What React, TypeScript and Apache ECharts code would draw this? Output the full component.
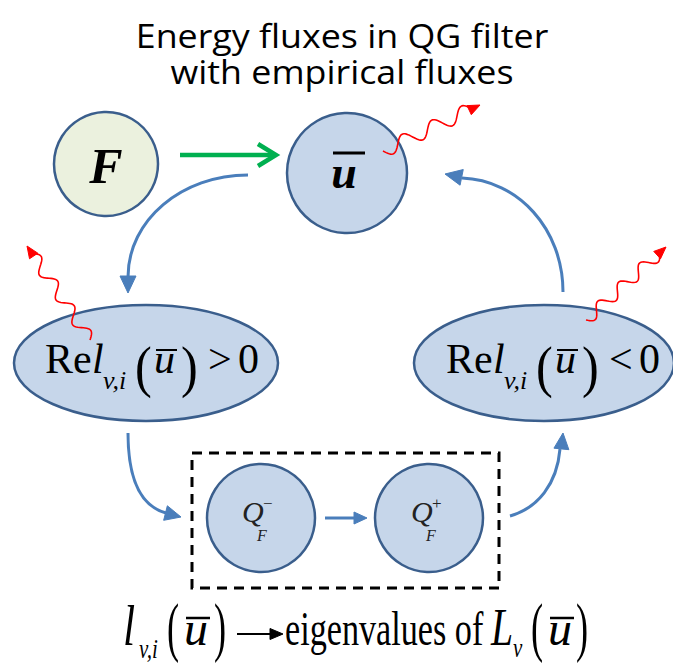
import React, { useEffect, useRef } from "react";
import * as echarts from "echarts";

// ---- texts of the diagram ----
const titleLines = ["Energy fluxes in QG filter", "with empirical fluxes"];
const forcingLabel = "F";
const meanLabel = "u";
const ellipseParts = ["Re", "l", "v,i", "(", "u", ")", "0"];
const relationSigns = [">", "<"];
const filterParts = ["Q", "F"];
const filterSigns = ["\u2212", "+"];
const footnoteParts = ["l", "v,i", "(", "u", ")", "eigenvalues of", "L", "v", "(", "u", ")"];

const SERIF = '"Liberation Serif", "Times New Roman", serif';
const SANS = '"Open Sans", "Noto Sans", sans-serif';

const BLUE_FILL = "#c6d6ea";
const GREEN_FILL = "#ebf1de";
const EDGE = "#3a5e8c";
const ARROW = "#4a7ebb";
const RED = "#ff0000";

type TOpt = { italic?: boolean; bold?: boolean; sx?: number; color?: string; family?: string; align?: string; mid?: number };

function txt(text: string, x: number, baseline: number, size: number, o: TOpt = {}) {
  const mid = o.mid ?? 0.3375;
  return {
    type: "text",
    x,
    y: baseline - mid * size,
    scaleX: o.sx ?? 1,
    silent: true,
    z: 20,
    style: {
      text,
      fill: o.color ?? "#000",
      fontSize: size,
      fontFamily: o.family ?? SERIF,
      fontStyle: o.italic ? "italic" : "normal",
      fontWeight: o.bold ? "bold" : "normal",
      textAlign: o.align ?? "left",
      textVerticalAlign: "middle",
      verticalAlign: "middle",
    },
  };
}

function bar(x1: number, x2: number, y: number, w = 2) {
  return { type: "line", silent: true, z: 20, shape: { x1, y1: y, x2, y2: y }, style: { stroke: "#000", lineWidth: w } };
}

function head(tipX: number, tipY: number, ang: number, len: number, wid: number, color: string) {
  const bx = tipX - len * Math.cos(ang);
  const by = tipY - len * Math.sin(ang);
  const px = -Math.sin(ang) * wid / 2;
  const py = Math.cos(ang) * wid / 2;
  return {
    type: "polygon",
    silent: true,
    z: 30,
    shape: { points: [[tipX, tipY], [bx + px, by + py], [bx - px, by - py]] },
    style: { fill: color, stroke: color, lineWidth: 1 },
  };
}

function curve(x1: number, y1: number, c1x: number, c1y: number, c2x: number, c2y: number, x2: number, y2: number) {
  return {
    type: "bezierCurve",
    silent: true,
    z: 30,
    shape: { x1, y1, cpx1: c1x, cpy1: c1y, cpx2: c2x, cpy2: c2y, x2, y2 },
    style: { stroke: ARROW, lineWidth: 3, fill: null },
  };
}

function wavy(sx: number, sy: number, tx: number, ty: number, periods: number, amp: number) {
  const ang = Math.atan2(ty - sy, tx - sx);
  const len = Math.hypot(tx - sx, ty - sy) - 9;
  const ex = sx + len * Math.cos(ang);
  const ey = sy + len * Math.sin(ang);
  const nx = -Math.sin(ang);
  const ny = Math.cos(ang);
  const pts: number[][] = [];
  const steps = 90;
  for (let i = 0; i <= steps; i++) {
    const t = i / steps;
    const off = amp * Math.sin(2 * Math.PI * periods * t);
    pts.push([sx + (ex - sx) * t + nx * off, sy + (ey - sy) * t + ny * off]);
  }
  return [
    { type: "polyline", silent: true, z: 40, shape: { points: pts }, style: { stroke: RED, lineWidth: 1.6, fill: null } },
    head(tx, ty, ang, 12, 10, RED),
  ];
}

function ellipseText(dx: number, sign: string) {
  const [re, l, sub, lp, u, rp, zero] = ellipseParts;
  return [
    txt(re, 45 + dx, 373, 42),
    txt(l, 92 + dx, 373, 42, { italic: true }),
    txt(sub, 103 + dx, 389, 26, { italic: true }),
    txt(lp, 135 + dx, 387, 56, { sx: 0.9 }),
    txt(u, 154 + dx, 373, 42, { italic: true }),
    bar(156 + dx, 177 + dx, 350, 2),
    txt(rp, 181 + dx, 387, 56, { sx: 0.9 }),
    txt(sign, 208 + dx, 373, 42),
    txt(zero, 238 + dx, 373, 42),
  ];
}

function filterText(x: number, sign: string) {
  const [q, f] = filterParts;
  return [
    txt(q, x, 522, 30, { italic: true, color: "#222" }),
    txt(f, x + 15, 541, 16, { italic: true, color: "#222" }),
    txt(sign, x + 21, 509, 17, { color: "#222" }),
  ];
}

function buildElements() {
  const els: any[] = [];
  // title
  els.push(txt(titleLines[0], 342, 48, 33, { family: SANS, align: "center", sx: 1.085, mid: 0.388 }));
  els.push(txt(titleLines[1], 342, 84, 33, { family: SANS, align: "center", sx: 1.085, mid: 0.388 }));

  // nodes
  els.push({ type: "circle", silent: true, z: 10, shape: { cx: 106, cy: 164, r: 52 }, style: { fill: GREEN_FILL, stroke: EDGE, lineWidth: 2.5 } });
  els.push({ type: "circle", silent: true, z: 10, shape: { cx: 347, cy: 173, r: 60 }, style: { fill: BLUE_FILL, stroke: EDGE, lineWidth: 2.5 } });
  els.push({ type: "ellipse", silent: true, z: 10, shape: { cx: 146, cy: 363, rx: 132, ry: 58 }, style: { fill: BLUE_FILL, stroke: EDGE, lineWidth: 2.5 } });
  els.push({ type: "ellipse", silent: true, z: 10, shape: { cx: 544, cy: 363, rx: 130, ry: 58 }, style: { fill: BLUE_FILL, stroke: EDGE, lineWidth: 2.5 } });
  els.push({ type: "circle", silent: true, z: 10, shape: { cx: 261, cy: 518, r: 54 }, style: { fill: BLUE_FILL, stroke: EDGE, lineWidth: 2.5 } });
  els.push({ type: "circle", silent: true, z: 10, shape: { cx: 429, cy: 518, r: 54 }, style: { fill: BLUE_FILL, stroke: EDGE, lineWidth: 2.5 } });

  // dashed box
  els.push({ type: "rect", silent: true, z: 5, shape: { x: 192, y: 453, width: 307, height: 135 }, style: { fill: null, stroke: "#000", lineWidth: 3, lineDash: [10, 7] } });

  // labels
  els.push(txt(forcingLabel, 106, 183, 50, { italic: true, bold: true, align: "center" }));
  els.push(txt(meanLabel, 344, 188, 46, { italic: true, bold: true, align: "center" }));
  els.push(bar(333, 365, 153, 3));
  els.push(...ellipseText(0, relationSigns[0]));
  els.push(...ellipseText(401, relationSigns[1]));
  els.push(...filterText(242, filterSigns[0]));
  els.push(...filterText(411, filterSigns[1]));

  // footnote
  const [l, sub, lp, u, rp, words, L, subv, lp2, u2, rp2] = footnoteParts;
  els.push(txt(l, 123, 645, 56, { italic: true, sx: 0.78 }));
  els.push(txt(sub, 139, 658, 28, { italic: true, sx: 0.75 }));
  els.push(txt(lp, 167, 650, 66, { sx: 0.55 }));
  els.push(txt(u, 184, 645, 48, { italic: true }));
  els.push(bar(186, 210, 618, 2.5));
  els.push(txt(rp, 214, 650, 66, { sx: 0.55 }));
  // maps-to arrow
  els.push({ type: "line", silent: true, z: 20, shape: { x1: 237, y1: 634, x2: 272, y2: 634 }, style: { stroke: "#000", lineWidth: 2 } });
  els.push(head(283, 634, 0, 13, 11, "#000"));
  els.push(txt(words, 285, 645, 48, { sx: 0.712 }));
  els.push(txt(L, 491, 645, 53, { italic: true, sx: 0.75 }));
  els.push(txt(subv, 513, 657, 28, { italic: true, sx: 0.75 }));
  els.push(txt(lp2, 531, 650, 66, { sx: 0.55 }));
  els.push(txt(u2, 548, 645, 48, { italic: true }));
  els.push(bar(550, 574, 618, 2.5));
  els.push(txt(rp2, 576, 650, 66, { sx: 0.55 }));

  // green arrow
  els.push({ type: "line", silent: true, z: 30, shape: { x1: 180, y1: 155, x2: 274, y2: 155 }, style: { stroke: "#00b050", lineWidth: 4.5 } });
  els.push({ type: "polyline", silent: true, z: 30, shape: { points: [[258, 144], [276, 155], [258, 166]] }, style: { stroke: "#00b050", lineWidth: 4.5, fill: null } });

  // blue curved arrows
  els.push(curve(248, 175, 182, 175, 128, 220, 128, 277));
  els.push(head(128, 293, Math.PI / 2, 17, 16, ARROW));
  els.push(curve(563, 292, 563, 229, 518, 180, 462, 178));
  els.push(head(445, 174, Math.PI + 0.2, 17, 16, ARROW));
  els.push(curve(128, 433, 128, 478, 140, 506, 166, 513));
  els.push(head(181, 517, 0.25, 16, 15, ARROW));
  els.push(curve(510, 516, 538, 508, 557, 484, 560, 449));
  els.push(head(563, 433, -Math.PI / 2 + 0.1, 16, 15, ARROW));
  els.push({ type: "line", silent: true, z: 30, shape: { x1: 325, y1: 518, x2: 356, y2: 518 }, style: { stroke: ARROW, lineWidth: 3 } });
  els.push(head(367, 518, 0, 13, 12, ARROW));

  // red wavy arrows
  els.push(...wavy(383, 151, 480, 105, 3, 7));
  els.push(...wavy(90, 340, 27, 246, 3.5, 6));
  els.push(...wavy(586, 320, 666, 247, 3.5, 6));
  return els;
}

export default function App() {
  const ref = useRef<HTMLDivElement>(null);
  useEffect(() => {
    document.body.style.margin = "0";
    const chart = echarts.init(ref.current!, null, { renderer: "svg" });
    chart.setOption({
      animation: false,
      backgroundColor: "#ffffff",
      graphic: { elements: buildElements() },
    });
    return () => chart.dispose();
  }, []);
  return <div ref={ref} style={{ width: 673, height: 666 }} />;
}
